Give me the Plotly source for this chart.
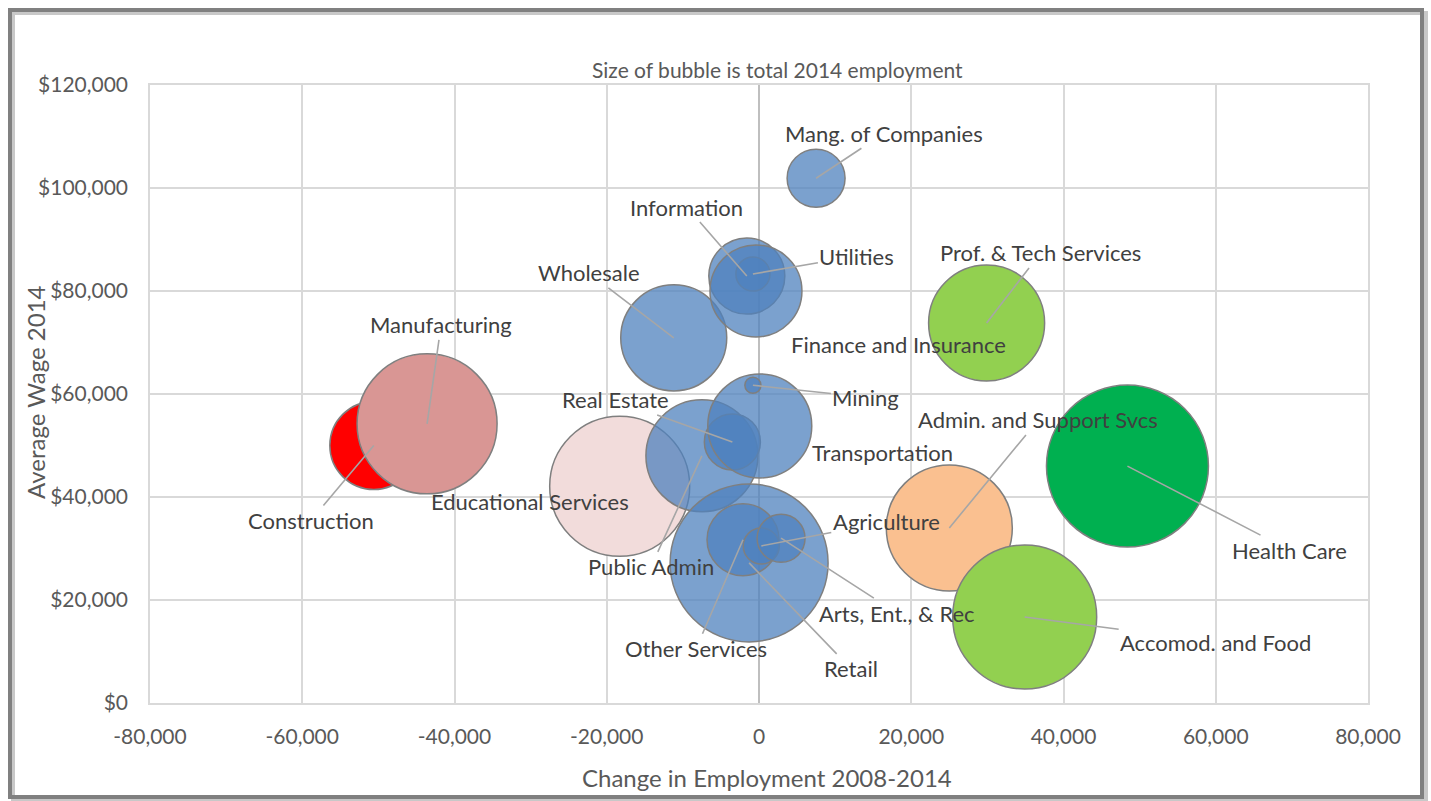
import plotly.graph_objects as go

# ---------------- data ----------------
sectors = ["Construction", "Manufacturing", "Educational Services", "Public Admin",
           "Real Estate", "Transportation", "Mining", "Wholesale", "Information",
           "Utilities", "Finance and Insurance", "Mang. of Companies",
           "Prof. & Tech Services", "Health Care", "Admin. and Support Svcs",
           "Accomod. and Food", "Retail", "Other Services", "Agriculture",
           "Arts, Ent., & Rec"]
emp_change = [-50600, -43600, -18300, -7500, -3500, 100, -800, -11200, -1600,
              -800, -400, 7500, 29900, 48400, 25000, 34900, -1300, -2100, 300, 2900]
avg_wage = [50000, 54200, 42100, 48000, 50700, 53800, 61700, 70900, 82900,
            83300, 80000, 101900, 73800, 46000, 34000, 16700, 27200, 31700, 30500, 32000]
employment_2014 = [77400, 196000, 196000, 125400, 31400, 108200, 2600, 112400, 57800,
                   11600, 84600, 33600, 134600, 262400, 158800, 207400, 249600, 51800,
                   13000, 23000]

x_ticks = [-80000, -60000, -40000, -20000, 0, 20000, 40000, 60000, 80000]
y_ticks = [0, 20000, 40000, 60000, 80000, 100000, 120000]
x_ticktext = [f"{v:,}" for v in x_ticks]
y_ticktext = [f"${v:,}" for v in y_ticks]

# ---------------- styling ----------------
BLUE = "rgba(79,129,189,0.75)"
colors = ["#FF0000", "#D99694", "#F2DCDB", BLUE, BLUE, BLUE, BLUE, BLUE, BLUE,
          BLUE, BLUE, BLUE, "#92D050", "#00B050", "#FAC090", "#92D050", BLUE, BLUE,
          BLUE, BLUE]
# label offsets (pixels) from bubble centre, and whether a leader line is drawn
label_dx = [-63, 14, -90, -51, -117, 123, 113, -85, -60, 104, 143, 68, 54, 162, 89,
            191, 102, -47, 125, 116]
label_dy = [75, -99, 15, 111, -42, 27, 12, -65, -69, -18, 53, -45, -70, 84, -108,
            25, 106, 109, -24, 75]
leader = [True, True, False, True, True, False, True, True, True, True, False, True,
          True, True, True, True, True, True, True, True]

FONT = "Lato"
W, H = 1431, 801
L, R, T, B = 150, 63, 85, 98
PW, PH = W - L - R, H - T - B


def px(xp):
    return (xp - L) / PW


def py(yp):
    return (H - B - yp) / PH


fig = go.Figure()
fig.add_trace(go.Scatter(
    x=emp_change, y=avg_wage, mode="markers", text=sectors,
    marker=dict(size=employment_2014, sizemode="area", sizeref=20, sizemin=0,
                opacity=1, color=colors, line=dict(color="#7F7F7F", width=1.5)),
    hoverinfo="text", showlegend=False,
))

annotations = []
for name, xv, yv, dx, dy, ld in zip(sectors, emp_change, avg_wage, label_dx, label_dy, leader):
    annotations.append(dict(
        x=xv, y=yv, xref="x", yref="y", text=name, showarrow=True,
        ax=dx, ay=dy, arrowhead=0, arrowwidth=1.6, standoff=0,
        xanchor="center", yanchor="middle",
        arrowcolor="#A6A6A6" if ld else "rgba(0,0,0,0)",
        font=dict(family=FONT, size=22, color="#404040"),
    ))

annotations.append(dict(x=px(777), y=py(69), xref="paper", yref="paper",
                        xanchor="center", yanchor="middle",
                        text="Size of bubble is total 2014 employment", showarrow=False,
                        font=dict(family=FONT, size=21, color="#595959")))
annotations.append(dict(x=px(767), y=py(777), xref="paper", yref="paper",
                        xanchor="center", yanchor="middle",
                        text="Change in Employment 2008-2014", showarrow=False,
                        font=dict(family=FONT, size=24, color="#595959")))
annotations.append(dict(x=px(35), y=py(392), xref="paper", yref="paper",
                        xanchor="center", yanchor="middle",
                        text="Average Wage 2014", showarrow=False, textangle=-90,
                        font=dict(family=FONT, size=24, color="#595959")))

shapes = [
    dict(type="rect", xref="paper", yref="paper", layer="below",
         x0=px(13), x1=px(1426), y0=py(800), y1=py(13),
         line=dict(color="#C8C8C8", width=4)),
    dict(type="rect", xref="paper", yref="paper", layer="below",
         x0=px(10), x1=px(1422), y0=py(797), y1=py(10),
         line=dict(color="#808080", width=4)),
]

fig.update_layout(
    width=W, height=H,
    margin=dict(l=L, r=R, t=T, b=B, autoexpand=False),
    paper_bgcolor="white", plot_bgcolor="white",
    annotations=annotations, shapes=shapes,
    xaxis=dict(range=[-80000, 80000], tickmode="array", tickvals=x_ticks,
               ticktext=x_ticktext,
               showgrid=True, gridcolor="#D9D9D9", gridwidth=1.5,
               zeroline=True, zerolinecolor="#BFBFBF", zerolinewidth=1.5,
               showline=True, linecolor="#D9D9D9", linewidth=1.5, mirror=True,
               ticks="", ticklabelstandoff=14,
               tickfont=dict(family=FONT, size=21, color="#595959")),
    yaxis=dict(range=[0, 120000], tickmode="array", tickvals=y_ticks,
               ticktext=y_ticktext,
               showgrid=True, gridcolor="#D9D9D9", gridwidth=1.5,
               zeroline=False,
               showline=True, linecolor="#D9D9D9", linewidth=1.5, mirror=True,
               ticks="", ticklabelstandoff=16,
               tickfont=dict(family=FONT, size=21, color="#595959")),
)

fig.write_html("out.html", config={"displayModeBar": False},
               post_script="document.body.style.margin='0';")
